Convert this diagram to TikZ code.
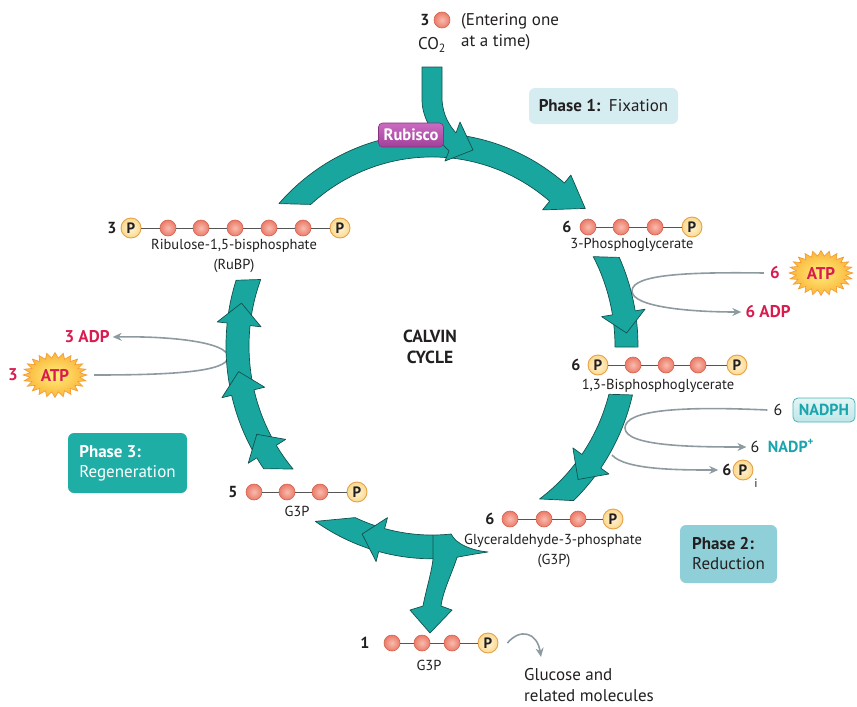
\documentclass[tikz,border=0pt]{standalone}
\usepackage{fontspec}
\setmainfont{PT Sans}
\usetikzlibrary{arrows.meta}
\definecolor{ring}{HTML}{19A69F}
\definecolor{ringline}{HTML}{12514D}
\definecolor{cin}{HTML}{F8BCAE}
\definecolor{cout}{HTML}{EB7A69}
\definecolor{cline}{HTML}{D8624F}
\definecolor{pin}{HTML}{FFF4D6}
\definecolor{pout}{HTML}{FBD98E}
\definecolor{pline}{HTML}{E5A24A}
\definecolor{bond}{HTML}{555555}
\definecolor{garrc}{HTML}{8D9BA1}
\definecolor{redtxt}{HTML}{D91B4F}
\definecolor{tealtxt}{HTML}{1AA5AE}
\definecolor{ph1}{HTML}{D5EDF0}
\definecolor{ph2}{HTML}{8FD0D8}
\definecolor{ph3}{HTML}{1FAEA6}
\definecolor{rubtop}{HTML}{CB6CC2}
\definecolor{rubbot}{HTML}{A0409A}
\definecolor{rubline}{HTML}{86307F}
\definecolor{txt}{HTML}{231F20}
\definecolor{burstin}{HTML}{FFF07A}
\definecolor{burstout}{HTML}{FBB33A}
\definecolor{burstline}{HTML}{F29A2E}
\definecolor{nadphin}{HTML}{E3F5F5}
\definecolor{nadphout}{HTML}{BFE6E8}
\definecolor{nadphline}{HTML}{49B4BA}

\tikzset{
  band/.style={fill=ring, draw=ringline, line width=0.7pt, line join=round},
  cb/.style={circle, minimum size=16pt, inner sep=0pt, inner color=cin, outer color=cout, draw=cline, line width=0.6pt},
  pb/.style={circle, minimum size=20pt, inner sep=0pt, inner color=pin, outer color=pout, draw=pline, line width=0.9pt, text=txt, font=\fontsize{15}{15}\selectfont\bfseries},
  bondl/.style={draw=bond, line width=0.8pt},
  lab/.style={font=\fontsize{14.5}{16}\selectfont, text=txt, inner sep=0pt},
  biglab/.style={font=\fontsize{17}{21}\selectfont, text=txt, inner sep=0pt},
  num/.style={font=\fontsize{16}{18}\selectfont\bfseries, text=txt, inner sep=0pt},
  redl/.style={font=\fontsize{17}{19}\selectfont\bfseries, text=redtxt, inner sep=0pt},
  garr/.style={draw=garrc, line width=1.6pt, -{Stealth[length=9pt,width=8pt]}},
  phase/.style={rounded corners=6pt, align=left, font=\fontsize{17}{20}\selectfont, inner sep=0pt},
}
\newcommand\chev[2]{%
  \fill[ring] (#1:183) -- (#1:172) -- (#2:195) -- (#1:216) -- (#1:206) -- cycle;
  \draw[ringline, line width=0.7pt, line join=round] (#1:183) -- (#1:172) -- (#2:195) -- (#1:216) -- (#1:206);}
\newcommand\burst[3]{%
  \shadedraw[inner color=burstin, outer color=burstout, draw=burstline, line width=0.6pt]
    plot[samples at={0,7.5,...,354}] ({#2+(mod(round(\x/7.5),2)==0 ? 32 : 25)*cos(\x)}, {#3+(mod(round(\x/7.5),2)==0 ? 22.5 : 17)*sin(\x)}) -- cycle;
  \node[redl, minimum width=64pt, minimum height=30pt] (#1) at (#2,#3) {ATP};}

\begin{document}
\begin{tikzpicture}[x=1pt,y=-1pt]
\useasboundingbox (0,0) rectangle (857,707);

% ---------- ATP / ADP / NADPH side reactions ----------
\node[redl] (l3) at (13,375) {3};
\burst{atpL}{55}{375}
\node[redl] (adpL) at (87,337) {3 ADP};
\draw[garr] ([xshift=7pt]atpL.east) .. controls (170,375) and (228,372) .. (228,357) .. controls (228,342) and (170,336) .. ([xshift=3pt]adpL.east);

\node[redl] (r6) at (775,273) {6};
\burst{atpR}{821}{273}
\node[redl] (adpR) at (768,312) {6 ADP};
\draw[garr] ([xshift=-6pt]r6.west) .. controls (690,272) and (632,274) .. (632,291) .. controls (632,307) and (690,312) .. ([xshift=-4pt]adpR.west);

\node[biglab, font=\fontsize{16}{18}\selectfont] (n6) at (778,410) {6};
\node[rounded corners=5pt, top color=nadphin, bottom color=nadphout, draw=nadphline, line width=0.8pt, minimum width=62pt, minimum height=24pt, inner sep=0pt, text=tealtxt, font=\fontsize{16}{18}\selectfont\bfseries] (nadph) at (824,410) {NADPH};
\node[biglab, font=\fontsize{16}{18}\selectfont] (n6b) at (755,447) {6};
\node[inner sep=0pt, text=tealtxt, font=\fontsize{16}{18}\selectfont\bfseries] (nadp) at (791,446) {NADP\textsuperscript{+}};
\draw[garr] ([xshift=-6pt]n6.west) .. controls (680,406) and (625,410) .. (625,428) .. controls (625,446) and (690,447) .. ([xshift=-4pt]n6b.west);

\node[num] (pi6) at (727,470) {6};
\node[pb] (pip) at (743,470) {P};
\node[lab, font=\fontsize{12}{12}\selectfont] (pii) at (756,483) {i};
\coordinate (pistart) at (612,455);
\draw[garr] (pistart) .. controls (625,470) and (680,470) .. ([xshift=-4pt]pi6.west);

% ---------- the cycle ----------
\begin{scope}[shift={(432,346)}, y={(0,-1.033pt)}]
  % top (fixation)
  \filldraw[band] (-138:206) arc[start angle=-138, end angle=-50, radius=206] -- (-50:216) -- (-41:203) -- (-50:172) -- (-50:183) arc[start angle=-50, end angle=-131.5, radius=183] -- cycle;
  % right upper
  \filldraw[band] (-24.6:206) arc[start angle=-24.6, end angle=0.3, radius=206] -- (0.3:183) arc[start angle=0.3, end angle=-28.2, radius=183] -- cycle;
  \chev{-9.5}{-3.7}
  % right lower
  \filldraw[band] (13.3:206) arc[start angle=13.3, end angle=46.6, radius=206] -- (54:183) arc[start angle=54, end angle=14.8, radius=183] -- cycle;
  \chev{35}{41.5}
  % bottom with branch
  \filldraw[band] (56,199.4) .. controls (45,201) and (33,203) .. (83:206)
     .. controls (20,220) and (11,237) .. (9,251.7) -- (20,255.6) -- (-2,277.8) -- (-22,255.6) -- (-9,251.7)
     .. controls (-6,236) and (-1,222) .. (89.7:206)
     arc[start angle=89.7, end angle=124.5, radius=206] -- (114.8:183)
     arc[start angle=114.8, end angle=84, radius=183]
     .. controls (24,192) and (40,198) .. (56,199.4) -- cycle;
  \draw[ringline, line width=0.7pt] (89.7:183) -- (89.7:206);
  \chev{105}{111}
  % left (regeneration)
  \filldraw[band] (144.8:206) arc[start angle=144.8, end angle=198, radius=206] -- (200.6:183) arc[start angle=200.6, end angle=139.4, radius=183] -- cycle;
  \chev{148.3}{154}
  \chev{166.6}{172.7}
  \chev{186.2}{192.3}
\end{scope}

% CO2 entering arrow
\filldraw[band] (422,67) -- (442,67) -- (442,100) .. controls (443,115) and (449,125) .. (456,133) -- (460,122) -- (473,150) -- (445,161) -- (449,151) .. controls (436,138) and (422,120) .. (422,100) -- cycle;

\node[rounded corners=4pt, top color=rubtop, bottom color=rubbot, draw=rubline, line width=0.6pt, text=white, font=\fontsize{16.5}{17}\selectfont\bfseries, minimum width=65pt, minimum height=24pt, inner xsep=3pt, inner ysep=1pt] (rub) at (411,135) {Rubisco};

% ---------- CO2 ----------
\node[num] (co3) at (425,20) {3};
\node[cb] (co2ball) at (442,20) {};
\node[biglab] (co2) at (432,45) {CO\textsubscript{2}};
\node[biglab, align=left, anchor=west] (enter) at (461,32) {(Entering one\\at a time)};

% ---------- RuBP ----------
\node[num] (ru0) at (112,228) {3};
\node[pb] (ru1) at (131,228) {P};
\node[cb] (ru2) at (168,228) {};
\node[cb] (ru3) at (201,228) {};
\node[cb] (ru4) at (235,228) {};
\node[cb] (ru5) at (269,228) {};
\node[cb] (ru6) at (303,228) {};
\node[pb] (ru7) at (340,228) {P};
\foreach \a/\b in {1/2,2/3,3/4,4/5,5/6,6/7} \draw[bondl] (ru\a) -- (ru\b);
\node[lab] (rutxt) at (234,246) {Ribulose-1,5-bisphosphate};
\node[lab] (rutxt2) at (234,266) {(RuBP)};

% ---------- 3-PG ----------
\node[num] (pg0) at (567,227) {6};
\node[cb] (pg1) at (588,227) {};
\node[cb] (pg2) at (621,227) {};
\node[cb] (pg3) at (655,227) {};
\node[pb] (pg4) at (692,227) {P};
\foreach \a/\b in {1/2,2/3,3/4} \draw[bondl] (pg\a) -- (pg\b);
\node[lab] (pgtxt) at (632,245) {3-Phosphoglycerate};

% ---------- 1,3-BPG ----------
\node[num] (bp0) at (576,365) {6};
\node[pb] (bp1) at (598,365) {P};
\node[cb] (bp2) at (633,365) {};
\node[cb] (bp3) at (666,365) {};
\node[cb] (bp4) at (698,365) {};
\node[pb] (bp5) at (737,365) {P};
\foreach \a/\b in {1/2,2/3,3/4,4/5} \draw[bondl] (bp\a) -- (bp\b);
\node[lab] (bptxt) at (658,386) {1,3-Bisphosphoglycerate};

% ---------- G3P (6) ----------
\node[num] (ga0) at (490,519) {6};
\node[cb] (ga1) at (510,519) {};
\node[cb] (ga2) at (544,519) {};
\node[cb] (ga3) at (578,519) {};
\node[pb] (ga4) at (613,519) {P};
\foreach \a/\b in {1/2,2/3,3/4} \draw[bondl] (ga\a) -- (ga\b);
\node[lab] (gatxt) at (553,541) {Glyceraldehyde-3-phosphate};
\node[lab] (gatxt2) at (554,561) {(G3P)};

% ---------- G3P (5) ----------
\node[num] (gf0) at (233,492) {5};
\node[cb] (gf1) at (254,492) {};
\node[cb] (gf2) at (287,492) {};
\node[cb] (gf3) at (320,492) {};
\node[pb] (gf4) at (357,492) {P};
\foreach \a/\b in {1/2,2/3,3/4} \draw[bondl] (gf\a) -- (gf\b);
\node[lab] (gftxt) at (297,511) {G3P};

% ---------- G3P (1) ----------
\node[num] (go0) at (365,643) {1};
\node[cb] (go1) at (392,643) {};
\node[cb] (go2) at (422,643) {};
\node[cb] (go3) at (452,643) {};
\node[pb] (go4) at (488,643) {P};
\foreach \a/\b in {1/2,2/3,3/4} \draw[bondl] (go\a) -- (go\b);
\node[lab] (gotxt) at (429,665) {G3P};
\coordinate (glu) at (541,657);
\draw[garr] ([xshift=9pt]go4.east) .. controls (520,628) and (537,632) .. (glu);
\node[biglab, align=left, anchor=north west] (gluc) at (524,668) {Glucose and\\related molecules};

% ---------- centre and phase labels ----------
\node[num, align=center, font=\fontsize{17.5}{21}\selectfont\bfseries] (calvin) at (430,347) {CALVIN\\CYCLE};
\node[phase, fill=ph1, minimum width=149pt, minimum height=36pt, text=txt, align=center] (ph1) at (603.5,106) {\textbf{Phase 1:}\enspace Fixation};
\node[phase, fill=ph2, minimum width=97pt, minimum height=58pt, text=txt] (ph2) at (728.5,554) {\textbf{Phase 2:}\\Reduction};
\node[phase, fill=ph3, minimum width=119pt, minimum height=60pt, text=white] (ph3) at (127.5,463) {\textbf{Phase 3:}\\Regeneration};
\end{tikzpicture}
\end{document}
